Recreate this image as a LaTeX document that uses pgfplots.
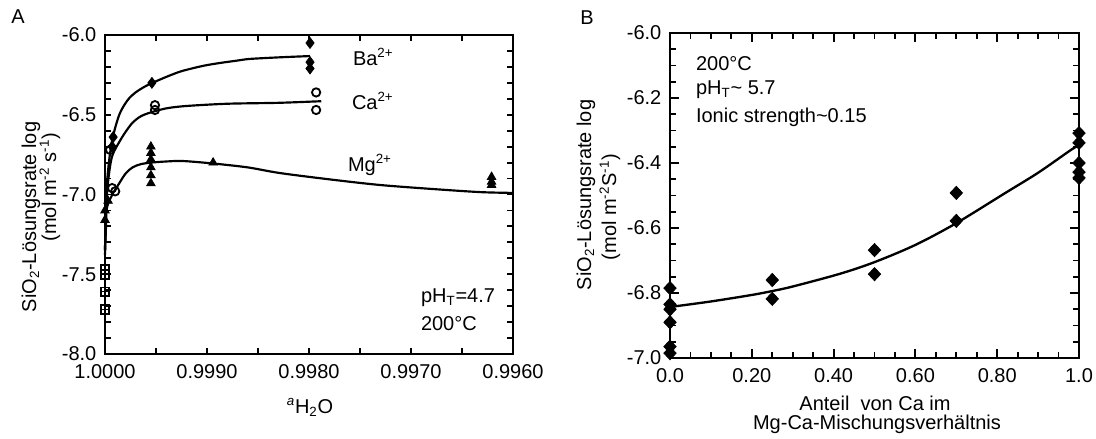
\documentclass[border=0pt]{standalone}
\usepackage{fontspec}
\setmainfont{Liberation Sans}
\setsansfont{Liberation Sans}
\usepackage{pgfplots}
\pgfplotsset{compat=1.18}

% shared look of both panels
\pgfplotsset{
  panel/.style={
    scale only axis, anchor=north west, clip=false,
    axis line style={line width=1.6pt},
    tick align=inside,
    every tick/.append style={line width=1.1pt, black},
    /pgf/number format/assume math mode=true,
    tick label style={font=\fontsize{12}{14}\selectfont},
    xticklabel style={yshift=-2pt},
    yticklabel style={xshift=-1pt},
  },
}

\begin{document}
\fontsize{12}{14}\selectfont
\begin{tikzpicture}
\useasboundingbox (0,0) rectangle (657.6pt,-262.8pt);

% ---- panel A ----
\begin{axis}[panel, at={(63pt,-21pt)}, width=244.8pt, height=191.4pt,
  x dir=reverse, xmin=0.996, xmax=1.0, ymin=-8, ymax=-6,
  xtick={0.996,0.997,0.998,0.999,1.0},
  xticklabels={0.9960,0.9970,0.9980,0.9990,1.0000},
  minor x tick num=1,
  ytick={-8,-7.5,-7,-6.5,-6},
  yticklabels={-8.0,-7.5,-7.0,-6.5,-6.0},
  minor y tick num=4,
  major tick length=3.8pt, minor tick length=3.8pt]
  % Ba fit
  \addplot[black, line width=1.3pt, smooth] coordinates {
    (1.0,-7.35)(0.99999,-7.05)(0.99997,-6.85)(0.99993,-6.66)(0.99986,-6.50)
    (0.99978,-6.41)(0.99970,-6.36)(0.99960,-6.32)(0.99950,-6.29)(0.99935,-6.25)
    (0.99924,-6.225)(0.99905,-6.195)(0.99890,-6.178)(0.99870,-6.16)(0.99858,-6.15)
    (0.99829,-6.14)(0.99799,-6.132)};
  % Ca fit
  \addplot[black, line width=1.3pt, smooth] coordinates {
    (1.0,-7.35)(0.99999,-7.10)(0.99997,-6.92)(0.99993,-6.76)(0.99985,-6.66)
    (0.99979,-6.60)(0.99973,-6.55)(0.99965,-6.51)(0.99955,-6.485)(0.99940,-6.46)
    (0.99924,-6.447)(0.99900,-6.437)(0.99875,-6.43)(0.99829,-6.425)(0.99788,-6.415)};
  % Mg fit
  \addplot[black, line width=1.3pt, smooth] coordinates {
    (1.0,-7.38)(0.99999,-7.20)(0.99998,-7.08)(0.99992,-6.99)(0.99988,-6.95)
    (0.99980,-6.87)(0.99973,-6.83)(0.99965,-6.81)(0.99955,-6.80)(0.99940,-6.793)
    (0.99924,-6.79)(0.99895,-6.805)(0.99860,-6.83)(0.99829,-6.865)(0.99780,-6.905)
    (0.99731,-6.94)(0.99680,-6.965)(0.99632,-6.985)(0.99600,-6.99)};
  % Ba data
  \addplot[only marks, mark=diamond*, mark size=3.3pt, black] coordinates {
    (0.99954,-6.30)(0.99799,-6.05)(0.99799,-6.17)(0.99799,-6.21)
    (0.99992,-6.64)(0.99993,-6.70)};
  % Ca data
  \addplot[only marks, mark=o, mark size=2.5pt, black, mark options={line width=1.1pt}] coordinates {
    (0.99951,-6.44)(0.99951,-6.47)(0.99793,-6.36)(0.99793,-6.47)
    (0.99995,-6.72)(0.99993,-6.96)(0.99990,-6.98)};
  % Mg data
  \addplot[only marks, mark=triangle*, mark size=3pt, black] coordinates {
    (0.99955,-6.70)(0.99955,-6.74)(0.99955,-6.78)(0.99955,-6.83)(0.99955,-6.88)
    (0.99955,-6.93)(0.99894,-6.80)(0.99621,-6.89)(0.99621,-6.92)(0.99621,-6.94)
    (1.0,-7.10)(1.0,-7.16)(0.99997,-7.04)};
  % squares
  \addplot[only marks, mark=square, mark size=2.6pt, black, mark options={line width=1.1pt}] coordinates {
    (1.0,-7.47)(1.0,-7.50)(1.0,-7.61)(1.0,-7.72)};
  \addplot[only marks, mark=+, mark size=2.6pt, black, mark options={line width=0.8pt}] coordinates {
    (1.0,-7.47)(1.0,-7.50)(1.0,-7.61)(1.0,-7.72)};
\end{axis}

\node at (10.8pt,-10.2pt) {A};
\node[rotate=90] at (18.6pt,-130.2pt) {SiO\textsubscript{2}-Lösungsrate log};
\node[rotate=90] at (30pt,-112.2pt) {(mol m\textsuperscript{-2} s\textsuperscript{-1})};
\node[anchor=base] at (186pt,-247.8pt) {\textsuperscript{\itshape a}H\textsubscript{2}O};
\node[anchor=base west] at (207.6pt,-39pt) {Ba\textsuperscript{2+}};
\node[anchor=base west] at (207pt,-65.4pt) {Ca\textsuperscript{2+}};
\node[anchor=base west] at (204.6pt,-102.6pt) {Mg\textsuperscript{2+}};
\node[anchor=base west] at (248.4pt,-181.2pt) {pH\textsubscript{T}=4.7};
\node[anchor=base west] at (248.4pt,-198pt) {200°C};

% ---- panel B ----
\begin{axis}[panel, at={(402pt,-19.8pt)}, width=245.4pt, height=195pt,
  xmin=0, xmax=1, ymin=-7, ymax=-6,
  xtick={0,0.2,0.4,0.6,0.8,1},
  xticklabels={0.0,0.20,0.40,0.60,0.80,1.0},
  minor x tick num=3,
  ytick={-7,-6.8,-6.6,-6.4,-6.2,-6},
  yticklabels={-7.0,-6.8,-6.6,-6.4,-6.2,-6.0},
  minor y tick num=3,
  major tick length=5.5pt, minor tick length=3.8pt]
  \addplot[black, line width=1.4pt, smooth] coordinates {
    (0,-6.843)(0.1,-6.826)(0.2,-6.806)(0.25,-6.794)(0.3,-6.78)(0.415,-6.741)
    (0.5,-6.705)(0.6,-6.652)(0.7,-6.585)(0.82,-6.492)(0.9,-6.43)(0.98,-6.36)(1.0,-6.345)};
  \addplot[only marks, mark=diamond*, mark size=4pt, black, mark options={xscale=1.25}] coordinates {
    (0,-6.785)(0,-6.835)(0,-6.85)(0,-6.89)(0,-6.965)(0,-6.985)
    (0.25,-6.76)(0.25,-6.818)
    (0.5,-6.668)(0.5,-6.742)
    (0.7,-6.492)(0.7,-6.578)
    (1.0,-6.308)(1.0,-6.338)(1.0,-6.40)(1.0,-6.428)(1.0,-6.446)};
\end{axis}

\node at (352.2pt,-10.8pt) {B};
\node[rotate=90] at (351.6pt,-117pt) {SiO\textsubscript{2}-Lösungsrate log};
\node[rotate=90] at (366pt,-124.2pt) {(mol m\textsuperscript{-2}S\textsuperscript{-1})};
\node[anchor=base west] at (413.4pt,-42pt) {200°C};
\node[anchor=base west] at (413.4pt,-56.4pt) {pH\textsubscript{T}\textasciitilde{} 5.7};
\node[anchor=base west] at (413.4pt,-73.2pt) {Ionic strength\textasciitilde0.15};
\node[anchor=base] at (525pt,-246pt) {Anteil\ \ von Ca im};
\node[anchor=base] at (526.2pt,-257.4pt) {Mg-Ca-Mischungsverhältnis};
\end{tikzpicture}
\end{document}
